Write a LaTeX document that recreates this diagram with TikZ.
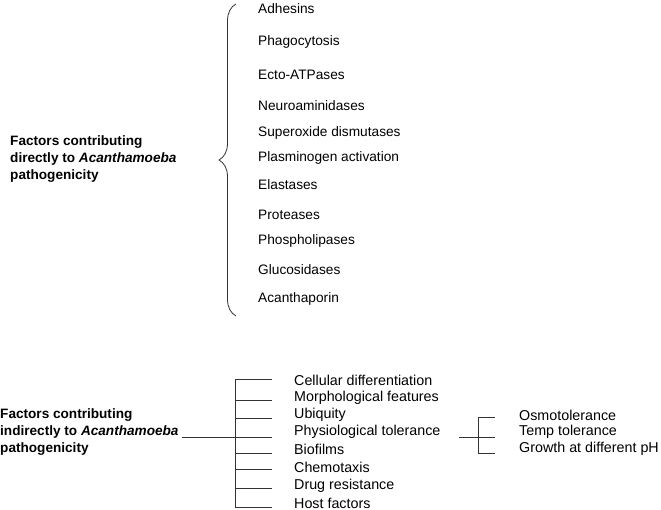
\documentclass[tikz,border=0pt]{standalone}
\usepackage{fontspec}
\setmainfont{Liberation Sans}
\usetikzlibrary{decorations.pathreplacing}
\begin{document}
\begin{tikzpicture}[x=1pt,y=-1pt,
  item/.style={anchor=west,inner sep=0pt,font=\fontsize{13.7}{16}\selectfont},
  itemb/.style={anchor=west,inner sep=0pt,font=\fontsize{14.3}{16}\selectfont},
  lbl/.style={anchor=west,inner sep=0pt,align=left,font=\fontsize{13.6}{17}\selectfont\bfseries},
  ln/.style={line width=0.8pt,black!80}]
\useasboundingbox (0,0) rectangle (661,510);
% top group
\node[lbl] (top) at (10,159) {Factors contributing\\directly to \textit{Acanthamoeba}\\pathogenicity};
\coordinate (bt) at (236,4);
\coordinate (bb) at (236,316);
\draw[ln,decorate,decoration={brace,amplitude=17pt}] (bb) -- (bt);
\foreach \n/\y/\t in {a/9/Adhesins,b/42/Phagocytosis,c/75/Ecto-ATPases,d/106/Neuroaminidases,e/133/Superoxide dismutases,f/158/Plasminogen activation,g/185/Elastases,h/215/Proteases,i/241/Phospholipases,j/270/Glucosidases,k/299/Acanthaporin}
  \node[item] (t\n) at (258,\y) {\t};
% bottom group
\node[lbl] (bot) at (0,432) {Factors contributing\\indirectly to \textit{Acanthamoeba}\\pathogenicity};
\coordinate (v1) at (235,379);
\coordinate (v2) at (235,507);
\draw[ln] (v1) -- (v2);
\coordinate (vm) at (235,437);
\coordinate (bs) at (bot.east |- vm);
\draw[ln] ([xshift=3pt]bs) -- (vm);
\foreach \n/\y/\ty/\t in {1/379/380/Cellular differentiation,2/400/398/Morphological features,3/418/415/Ubiquity,4/437/432/Physiological tolerance,5/453/449/Biofilms,6/469/467/Chemotaxis,7/488/486/Drug resistance,8/507/503/Host factors}{
  \coordinate (b\n) at (235,\y);
  \coordinate (e\n) at (272,\y);
  \draw[ln] (b\n) -- (e\n);
  \node[itemb] (s\n) at (294,\ty) {\t};
}
\coordinate (p0) at (459,437);
\coordinate (p1) at (478,437);
\draw[ln] (p0) -- (p1);
\coordinate (q1) at (478,417);
\coordinate (q3) at (478,453);
\draw[ln] (q1) -- (q3);
\foreach \n/\y/\ty/\t in {1/417/415/Osmotolerance,2/437/432/Temp tolerance,3/453/449/Growth at different pH}{
  \coordinate (r\n) at (478,\y);
  \coordinate (f\n) at (495,\y);
  \draw[ln] (r\n) -- (f\n);
  \node[itemb] (o\n) at (519,\ty) {\t};
}
\end{tikzpicture}
\end{document}
